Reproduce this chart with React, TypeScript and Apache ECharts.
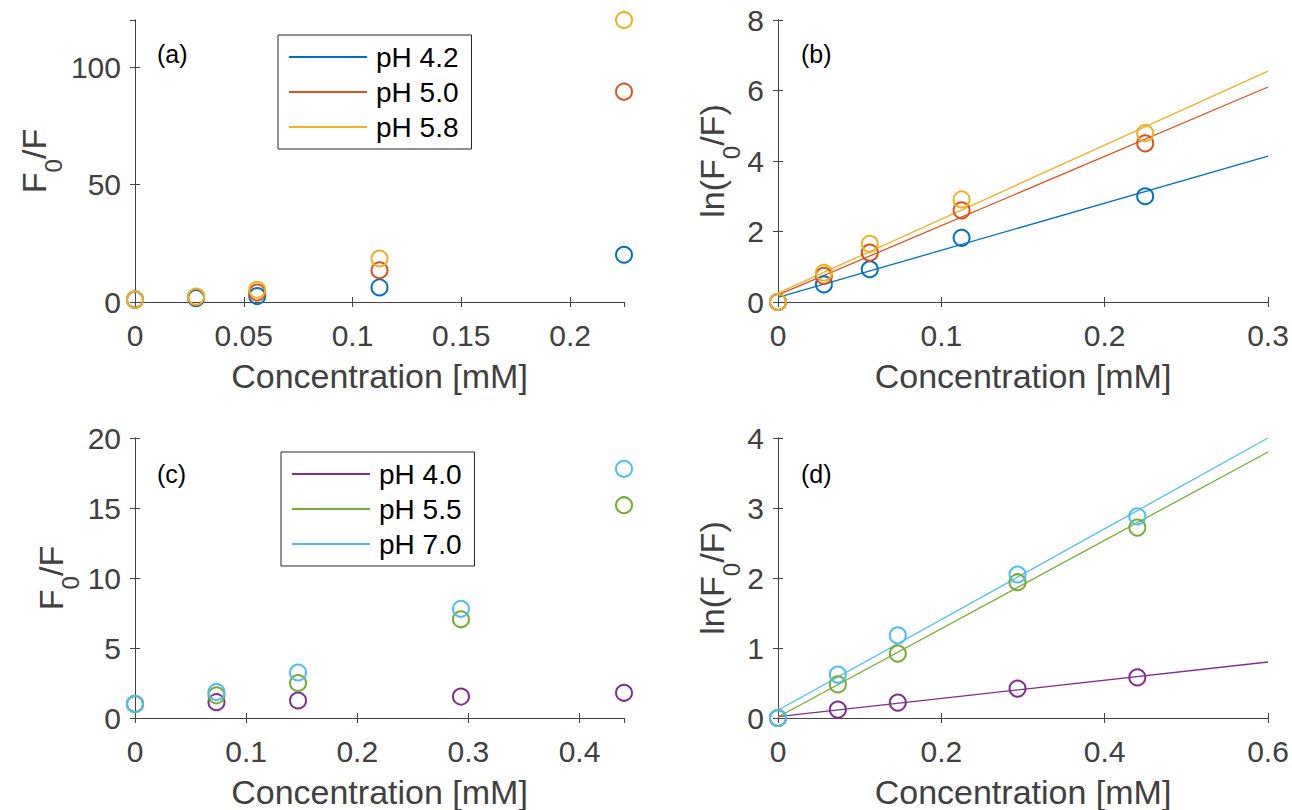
import React, { useEffect, useRef } from "react";
import * as echarts from "echarts";

// ---------- data ----------
const concA = [0, 0.0281, 0.0562, 0.1124, 0.2248];
const ratioA_pH42 = [1, 1.65, 2.53, 6.2, 20.1];
const ratioA_pH50 = [1, 2.1, 4.05, 13.5, 89.5];
const ratioA_pH58 = [1, 2.3, 5.2, 18.5, 120];

const lnB_pH42 = [0, 0.5, 0.93, 1.82, 3.0];
const lnB_pH50 = [0, 0.74, 1.4, 2.6, 4.5];
const lnB_pH58 = [0, 0.83, 1.65, 2.91, 4.79];
const fitB_x = [0, 0.3];
const fitB_pH42 = [0.13, 4.14];
const fitB_pH50 = [0.2, 6.1];
const fitB_pH58 = [0.25, 6.55];

const concC = [0, 0.0733, 0.1467, 0.2933, 0.44];
const ratioC_pH40 = [1, 1.13, 1.25, 1.53, 1.8];
const ratioC_pH55 = [1, 1.62, 2.5, 7.05, 15.2];
const ratioC_pH70 = [1, 1.86, 3.25, 7.8, 17.8];

const lnD_pH40 = [0, 0.12, 0.22, 0.42, 0.58];
const lnD_pH55 = [0, 0.48, 0.92, 1.94, 2.72];
const lnD_pH70 = [0, 0.62, 1.18, 2.05, 2.88];
const fitD_x = [0, 0.6];
const fitD_pH40 = [0.02, 0.8];
const fitD_pH55 = [0.015, 3.8];
const fitD_pH70 = [0.11, 4.0];

const namesTop = ["pH 4.2", "pH 5.0", "pH 5.8"];
const namesBottom = ["pH 4.0", "pH 5.5", "pH 7.0"];
const panelLabels = ["(a)", "(b)", "(c)", "(d)"];

const BLUE = "#0072BD";
const RED = "#D95319";
const YELLOW = "#EDB120";
const PURPLE = "#7E2F8E";
const GREEN = "#77AC30";
const CYAN = "#4DBEEE";

const FONT = "Liberation Sans, Arial, Helvetica, sans-serif";
const AXIS_COLOR = "#444444";
const TEXT_COLOR = "#404040";

const zip = (xs: number[], ys: number[]) => xs.map((x, i) => [x, ys[i]]);

export default function App() {
  const ref = useRef<HTMLDivElement>(null);

  useEffect(() => {
    if (!ref.current) return;
    const chart = echarts.init(ref.current, null, { renderer: "svg" });

    const grids = [
      { left: 135, top: 20, width: 489, height: 282 },
      { left: 778, top: 20, width: 490, height: 282 },
      { left: 135, top: 438, width: 489, height: 282 },
      { left: 778, top: 438, width: 490, height: 282 },
    ];

    const xRanges = [
      { min: 0, max: 0.2248, interval: 0.05 },
      { min: 0, max: 0.3, interval: 0.1 },
      { min: 0, max: 0.44, interval: 0.1 },
      { min: 0, max: 0.6, interval: 0.2 },
    ];
    const yRanges = [
      { min: 0, max: 120, interval: 50 },
      { min: 0, max: 8, interval: 2 },
      { min: 0, max: 20, interval: 5 },
      { min: 0, max: 4, interval: 1 },
    ];
    const yNames = [
      "{n|F}{s|0}{n|/F}",
      "{n|ln(F}{s|0}{n|/F)}",
      "{n|F}{s|0}{n|/F}",
      "{n|ln(F}{s|0}{n|/F)}",
    ];
    const yNameGaps = [84, 49, 67, 49];

    const axisLine = { show: true, lineStyle: { color: AXIS_COLOR, width: 1 } };
    const tick = { show: true, inside: true, length: 5, lineStyle: { color: AXIS_COLOR, width: 1 } };

    const xAxis: any[] = [];
    const yAxis: any[] = [];
    for (let i = 0; i < 4; i++) {
      xAxis.push({
        type: "value",
        gridIndex: i,
        position: "bottom",
        ...xRanges[i],
        axisLine,
        axisTick: tick,
        splitLine: { show: false },
        axisLabel: {
          fontSize: 30,
          fontFamily: FONT,
          color: TEXT_COLOR,
          margin: 18,
          showMaxLabel: i === 1 || i === 3,
        },
        name: "Concentration [mM]",
        nameLocation: "middle",
        nameGap: 57,
        nameTextStyle: { fontSize: 34, fontFamily: FONT, color: TEXT_COLOR },
      });
      xAxis.push({
        type: "value",
        gridIndex: i,
        position: "top",
        ...xRanges[i],
        axisLine,
        axisTick: tick,
        splitLine: { show: false },
        axisLabel: { show: false },
      });
      yAxis.push({
        type: "value",
        gridIndex: i,
        position: "left",
        ...yRanges[i],
        axisLine,
        axisTick: tick,
        splitLine: { show: false },
        axisLabel: {
          fontSize: 30,
          fontFamily: FONT,
          color: TEXT_COLOR,
          margin: 14,
          showMaxLabel: i !== 0,
        },
        name: yNames[i],
        nameLocation: "middle",
        nameGap: yNameGaps[i],
        nameTextStyle: {
          fontFamily: FONT,
          color: TEXT_COLOR,
          rich: {
            n: { fontSize: 34, lineHeight: 34, fontFamily: FONT, color: TEXT_COLOR, verticalAlign: "top" },
            s: {
              fontSize: 24,
              lineHeight: 24,
              fontFamily: FONT,
              color: TEXT_COLOR,
              verticalAlign: "top",
              padding: [24, 0, 0, 0],
            },
          },
        },
      });
      yAxis.push({
        type: "value",
        gridIndex: i,
        position: "right",
        ...yRanges[i],
        axisLine,
        axisTick: tick,
        splitLine: { show: false },
        axisLabel: { show: false },
      });
    }

    const scatter = (name: string, panel: number, xs: number[], ys: number[], color: string) => ({
      type: "scatter",
      name,
      xAxisIndex: panel * 2,
      yAxisIndex: panel * 2,
      data: zip(xs, ys),
      symbol: "circle",
      symbolSize: 16,
      clip: false,
      itemStyle: { color: "rgba(0,0,0,0)", borderColor: color, borderWidth: 2, opacity: 1 },
      emphasis: { disabled: true },
      z: 3,
    });
    const fit = (name: string, panel: number, xs: number[], ys: number[], color: string) => ({
      type: "line",
      name,
      xAxisIndex: panel * 2,
      yAxisIndex: panel * 2,
      data: zip(xs, ys),
      showSymbol: false,
      symbol: "none",
      lineStyle: { color, width: 1.3 },
      itemStyle: { color },
      emphasis: { disabled: true },
      z: 2,
    });

    const series = [
      scatter(namesTop[0], 0, concA, ratioA_pH42, BLUE),
      scatter(namesTop[1], 0, concA, ratioA_pH50, RED),
      scatter(namesTop[2], 0, concA, ratioA_pH58, YELLOW),
      fit("fit b 4.2", 1, fitB_x, fitB_pH42, BLUE),
      fit("fit b 5.0", 1, fitB_x, fitB_pH50, RED),
      fit("fit b 5.8", 1, fitB_x, fitB_pH58, YELLOW),
      scatter("b " + namesTop[0], 1, concA, lnB_pH42, BLUE),
      scatter("b " + namesTop[1], 1, concA, lnB_pH50, RED),
      scatter("b " + namesTop[2], 1, concA, lnB_pH58, YELLOW),
      scatter(namesBottom[0], 2, concC, ratioC_pH40, PURPLE),
      scatter(namesBottom[1], 2, concC, ratioC_pH55, GREEN),
      scatter(namesBottom[2], 2, concC, ratioC_pH70, CYAN),
      fit("fit d 4.0", 3, fitD_x, fitD_pH40, PURPLE),
      fit("fit d 5.5", 3, fitD_x, fitD_pH55, GREEN),
      fit("fit d 7.0", 3, fitD_x, fitD_pH70, CYAN),
      scatter("d " + namesBottom[0], 3, concC, lnD_pH40, PURPLE),
      scatter("d " + namesBottom[1], 3, concC, lnD_pH55, GREEN),
      scatter("d " + namesBottom[2], 3, concC, lnD_pH70, CYAN),
    ];

    const legendBase = {
      orient: "vertical",
      icon: "rect",
      itemWidth: 78,
      itemHeight: 2,
      itemGap: 7,
      padding: [8, 13, 8, 11],
      borderColor: "#262626",
      borderWidth: 1,
      backgroundColor: "#ffffff",
      selectedMode: false,
      itemStyle: { borderWidth: 0 },
      textStyle: {
        fontSize: 28,
        lineHeight: 28,
        fontFamily: FONT,
        color: "#000000",
        padding: [0, 0, 0, 4],
      },
      z: 10,
    };

    const legend = [
      {
        ...legendBase,
        left: 278,
        top: 35,
        data: namesTop.map((n, i) => ({
          name: n,
          itemStyle: { color: [BLUE, RED, YELLOW][i], borderWidth: 0 },
        })),
      },
      {
        ...legendBase,
        left: 281,
        top: 452,
        data: namesBottom.map((n, i) => ({
          name: n,
          itemStyle: { color: [PURPLE, GREEN, CYAN][i], borderWidth: 0 },
        })),
      },
    ];

    const labelPos = [
      [157, 41],
      [801, 41],
      [157, 461],
      [801, 461],
    ];
    const graphic = panelLabels.map((t, i) => ({
      type: "text",
      left: labelPos[i][0],
      top: labelPos[i][1],
      z: 10,
      style: { text: t, font: `25px ${FONT}`, fill: "#000000" },
    }));

    chart.setOption({
      animation: false,
      backgroundColor: "#ffffff",
      grid: grids,
      xAxis,
      yAxis,
      legend,
      graphic,
      series,
    });

    return () => chart.dispose();
  }, []);

  return (
    <div
      ref={ref}
      style={{ position: "absolute", left: 0, top: 0, width: 1292, height: 810 }}
    />
  );
}
